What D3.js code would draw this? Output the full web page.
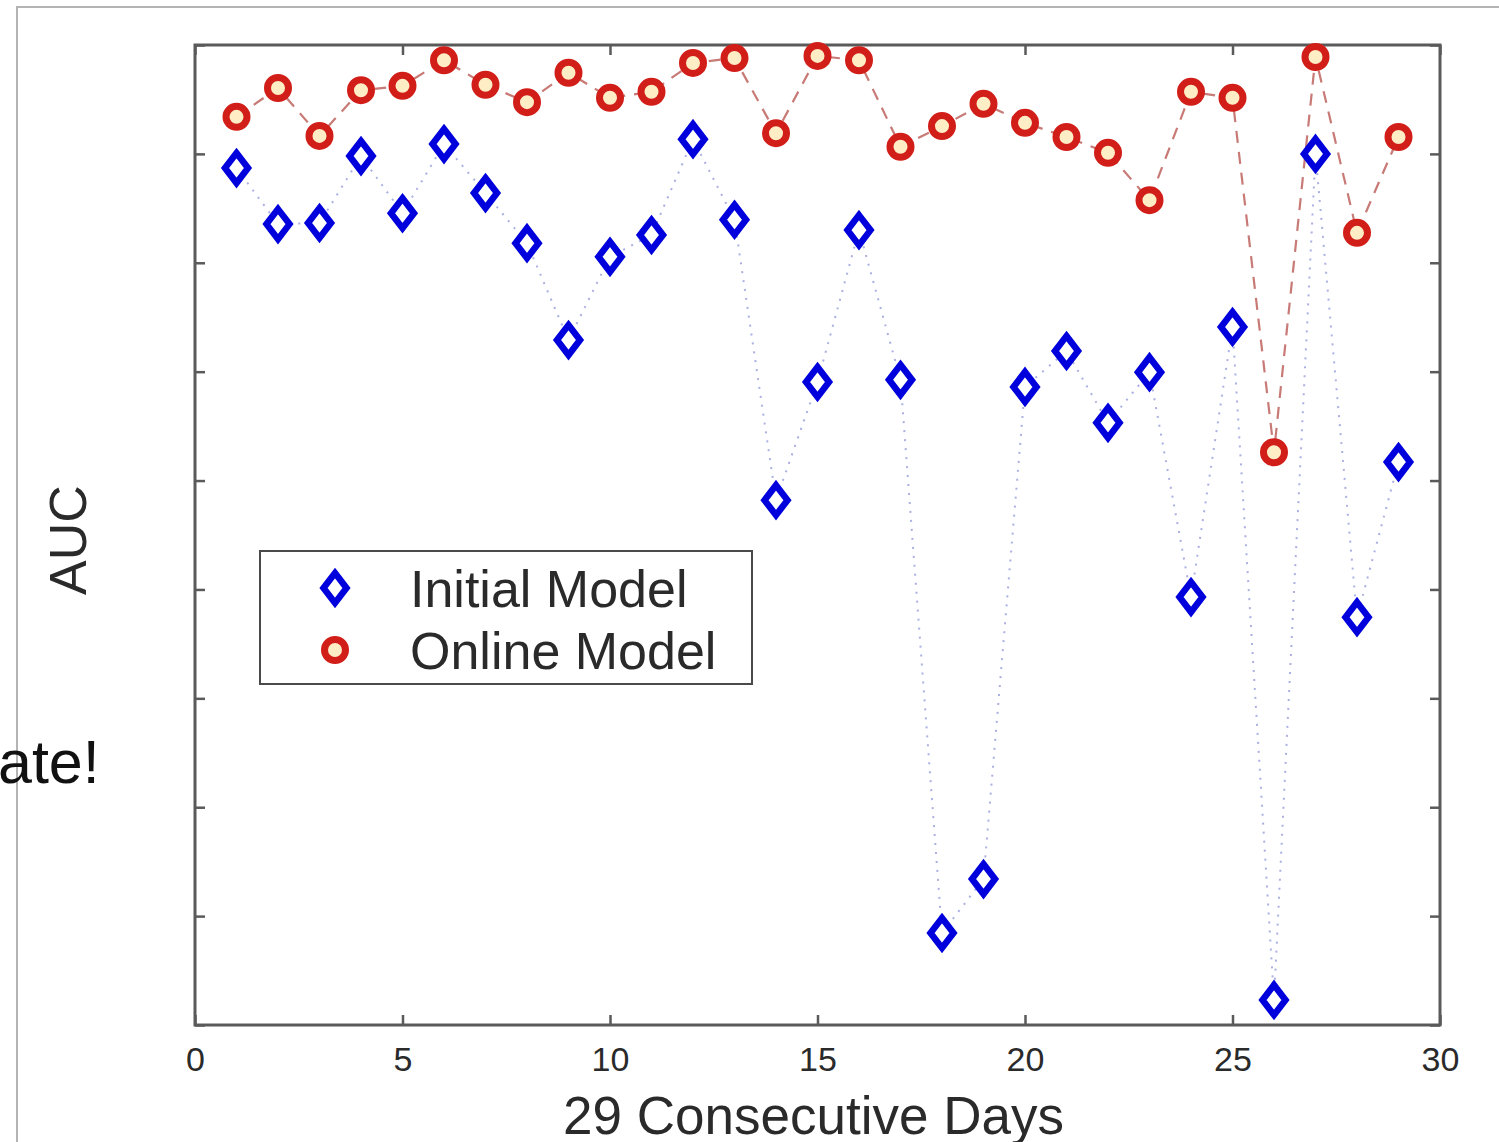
<!DOCTYPE html>
<html>
<head>
<meta charset="utf-8">
<script src="https://cdn.jsdelivr.net/npm/d3@7"></script>
<style>
	body { margin: 0; background: #fff; }
	svg { display: block; font-family: "Liberation Sans", Arial, Helvetica, sans-serif; }
</style>
</head>
<body>
<svg id="chart" width="1499" height="1142"></svg>
<script>
// days 1..29
var days = d3.range(1, 30);

// AUC (y ticks carry no labels)
var initialModel = [
	0.7574, 0.7471, 0.7473, 0.7596, 0.7491, 0.7618, 0.7528, 0.7436, 0.7258, 0.7411,
	0.7451, 0.7627, 0.7479, 0.6964, 0.7181, 0.7460, 0.7185, 0.6169, 0.6268, 0.7172,
	0.7238, 0.7106, 0.7199, 0.6786, 0.7282, 0.6046, 0.7600, 0.6749, 0.7034
];
var onlineModel = [
	0.7668, 0.7721, 0.7633, 0.7717, 0.7725, 0.7772, 0.7727, 0.7695, 0.7749, 0.7703,
	0.7714, 0.7767, 0.7776, 0.7638, 0.7780, 0.7772, 0.7613, 0.7651, 0.7692, 0.7657,
	0.7631, 0.7602, 0.7515, 0.7714, 0.7703, 0.7052, 0.7778, 0.7455, 0.7631
];

var xTicks = [0, 5, 10, 15, 20, 25, 30];
var yTicks = [0.60, 0.62, 0.64, 0.66, 0.68, 0.70, 0.72, 0.74, 0.76, 0.78];
var legendLabels = ["Initial Model", "Online Model"];

var margin = {left: 195, top: 45, right: 59, bottom: 117};
var svg = d3.select("#chart");
var width = +svg.attr("width") - margin.left - margin.right;
var height = +svg.attr("height") - margin.top - margin.bottom;

var xscale = d3.scaleLinear().domain([0, 30]).range([0, width]);
var yscale = d3.scaleLinear().domain([0.60, 0.78]).range([height, 0]);

var blue = "#0000dc", red = "#d21e18", axisColor = "#5a5a5a";

// slide frame behind the figure
svg.append("path")
	.attr("d", "M17,1142V7H1499")
	.attr("fill", "none")
	.attr("stroke", "#b4b4b4")
	.attr("stroke-width", 2);

// stray slide text on the left
svg.append("text")
	.attr("x", -2).attr("y", 783)
	.attr("font-size", 61)
	.attr("fill", "#111")
	.text("ate!");

var g = svg.append("g").attr("transform", "translate(" + margin.left + "," + margin.top + ")");

// box axes with inward ticks, no y labels
function styleAxis(sel) {
	sel.select(".domain").remove();
	sel.selectAll(".tick line").attr("stroke", axisColor).attr("stroke-width", 2.5);
	sel.selectAll(".tick text").attr("fill", "#2a2a2a").attr("font-size", 34);
}

g.append("g").attr("transform", "translate(0," + height + ")")
	.call(d3.axisBottom(xscale).tickValues(xTicks).tickSizeInner(-10).tickSizeOuter(0).tickPadding(22))
	.call(styleAxis);
g.append("g")
	.call(d3.axisTop(xscale).tickValues(xTicks).tickSizeInner(-10).tickSizeOuter(0).tickFormat(""))
	.call(styleAxis);
g.append("g")
	.call(d3.axisLeft(yscale).tickValues(yTicks).tickSizeInner(-10).tickSizeOuter(0).tickFormat(""))
	.call(styleAxis);
g.append("g").attr("transform", "translate(" + width + ",0)")
	.call(d3.axisRight(yscale).tickValues(yTicks).tickSizeInner(-10).tickSizeOuter(0).tickFormat(""))
	.call(styleAxis);

g.append("rect")
	.attr("width", width).attr("height", height)
	.attr("fill", "none")
	.attr("stroke", axisColor)
	.attr("stroke-width", 3);

// axis titles
svg.append("text")
	.attr("x", margin.left + width / 2 - 4).attr("y", 1134)
	.attr("text-anchor", "middle")
	.attr("font-size", 53)
	.attr("fill", "#2a2a2a")
	.text("29 Consecutive Days");

svg.append("text")
	.attr("transform", "translate(86,540) rotate(-90)")
	.attr("text-anchor", "middle")
	.attr("font-size", 52)
	.attr("fill", "#2a2a2a")
	.text("AUC");

// connecting lines
var line = d3.line()
	.x(function(d) { return xscale(d.day); })
	.y(function(d) { return yscale(d.value); });

function toPoints(values) {
	return values.map(function(v, i) { return {day: days[i], value: v}; });
}

g.append("path")
	.datum(toPoints(initialModel))
	.attr("d", line)
	.attr("fill", "none")
	.attr("stroke", "#aab0e2")
	.attr("stroke-width", 2)
	.attr("stroke-dasharray", "2,7");

g.append("path")
	.datum(toPoints(onlineModel))
	.attr("d", line)
	.attr("fill", "none")
	.attr("stroke", "#c87a76")
	.attr("stroke-width", 2.2)
	.attr("stroke-dasharray", "12,9");

// markers
var diamond = "M0,-15L11.5,0L0,15L-11.5,0Z";

function drawDiamond(sel) {
	sel.attr("d", diamond)
		.attr("fill", "#ffffff")
		.attr("stroke", blue)
		.attr("stroke-width", 6.5)
		.attr("stroke-linejoin", "miter");
}

function drawCircle(sel) {
	sel.attr("r", 10.5)
		.attr("fill", "#ffedc6")
		.attr("stroke", red)
		.attr("stroke-width", 7);
}

g.selectAll(".initialPoint")
	.data(toPoints(initialModel))
	.enter()
	.append("path")
	.classed("initialPoint", true)
	.attr("transform", function(d) { return "translate(" + xscale(d.day) + "," + yscale(d.value) + ")"; })
	.call(drawDiamond);

g.selectAll(".onlinePoint")
	.data(toPoints(onlineModel))
	.enter()
	.append("circle")
	.classed("onlinePoint", true)
	.attr("cx", function(d) { return xscale(d.day); })
	.attr("cy", function(d) { return yscale(d.value); })
	.call(drawCircle);

// legend
var legend = svg.append("g").attr("transform", "translate(260,551)");
legend.append("rect")
	.attr("width", 492).attr("height", 133)
	.attr("fill", "#fff")
	.attr("stroke", "#4a4a4a")
	.attr("stroke-width", 2);

legend.append("path").attr("transform", "translate(75,37)").call(drawDiamond);
legend.append("circle").attr("cx", 75).attr("cy", 99).call(drawCircle);

legend.selectAll(".legendLabel")
	.data(legendLabels)
	.enter()
	.append("text")
	.classed("legendLabel", true)
	.attr("x", 150)
	.attr("y", function(d, i) { return 56 + i * 62; })
	.attr("font-size", 52)
	.attr("fill", "#2a2a2a")
	.text(function(d) { return d; });
</script>
</body>
</html>
